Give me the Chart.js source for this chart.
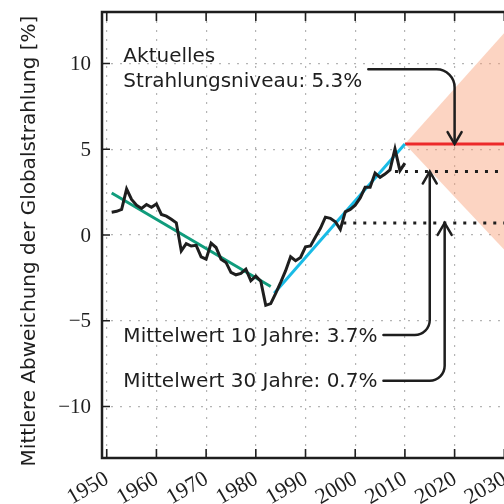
<!DOCTYPE html>
<html>
<head>
<meta charset="utf-8">
<script src="https://cdn.jsdelivr.net/npm/chart.js@4"></script>
<style>
  html, body { margin: 0; padding: 0; overflow: hidden; background: #fff; }
  #wrap { width: 560px; height: 504px; }
</style>
</head>
<body>
<div id="wrap"><canvas id="chart"></canvas></div>
<script>
// ---------- DATA ----------
const years = [
  1951, 1952, 1953, 1954, 1955, 1956, 1957, 1958, 1959, 1960,
  1961, 1962, 1963, 1964, 1965, 1966, 1967, 1968, 1969, 1970,
  1971, 1972, 1973, 1974, 1975, 1976, 1977, 1978, 1979, 1980,
  1981, 1982, 1983, 1984, 1985, 1986, 1987, 1988, 1989, 1990,
  1991, 1992, 1993, 1994, 1995, 1996, 1997, 1998, 1999, 2000,
  2001, 2002, 2003, 2004, 2005, 2006, 2007, 2008, 2009, 2010
];
const radiation = [
  1.33, 1.38, 1.49, 2.68, 2.07, 1.74, 1.55, 1.78, 1.62, 1.81,
  1.2, 1.1, 0.92, 0.71, -0.93, -0.5, -0.64, -0.6, -1.27, -1.41,
  -0.48, -0.73, -1.41, -1.6, -2.18, -2.32, -2.24, -1.99, -2.66, -2.4,
  -2.7, -4.1, -4.0, -3.4, -2.76, -2.08, -1.27, -1.5, -1.31, -0.69,
  -0.64, -0.12, 0.39, 1.04, 0.97, 0.77, 0.33, 1.35, 1.49, 1.74,
  2.16, 2.78, 2.78, 3.61, 3.36, 3.55, 3.8, 5.02, 3.75, 4.19
];
const trendOldYears = [1951, 1983];
const trendOldValues = [2.45, -3.0];
const trendNewYears = [1983.7, 2010];
const trendNewValues = [-3.4, 5.3];
const currentYears = [2010, 2040];
const currentLevel = 5.3;
const mean10 = 3.7;
const mean30 = 0.7;
const mean10Years = [2008, 2040];
const mean30Years = [1997.6, 2040];
const coneYears = [2010, 2035];
const coneUpper = [5.3, 13.4];
const coneLower = [5.3, -2.4];
const xTicks = [1950, 1960, 1970, 1980, 1990, 2000, 2010, 2020, 2030, 2040];
const yTicks = [-10, -5, 0, 5, 10];
const xRange = [1949.05, 2040];
const yRange = [-13, 13];
const yTitle = "Mittlere Abweichung der Globalstrahlung [%]";

// annotation texts, anchored in data units
const notes = [
  { lines: ["Aktuelles", "Strahlungsniveau: 5.3%"], x: 1953.35, baselines: [10.1, 8.65],
    arrow: { y: 9.66, turnX: 2020, tip: currentLevel, r: 18 } },
  { lines: ["Mittelwert 10 Jahre: 3.7%"], x: 1953.35, baselines: [-6.22],
    arrow: { y: -5.83, turnX: 2015, tip: mean10, r: 15 } },
  { lines: ["Mittelwert 30 Jahre: 0.7%"], x: 1953.35, baselines: [-8.88],
    arrow: { y: -8.5, turnX: 2018, tip: mean30, r: 15 } }
];

// ---------- HELPERS ----------
const pts = (xs, ys) => xs.map((x, i) => ({ x, y: ys[i] }));
const flat = (xs, v) => xs.map(x => ({ x, y: v }));

const INK = "#1e1e1e";
const SANS = "20px 'DejaVu Sans'";
const SERIF = "21px 'Liberation Serif'";

function drawArrow(ctx, x0, yH, xV, yTip, r) {
  const dir = yTip > yH ? 1 : -1;
  ctx.beginPath();
  ctx.moveTo(x0, yH);
  ctx.arcTo(xV, yH, xV, yTip, r);
  ctx.lineTo(xV, yTip - dir * 1);
  ctx.stroke();
  ctx.beginPath();
  ctx.moveTo(xV - 7, yTip - dir * 12);
  ctx.lineTo(xV, yTip);
  ctx.lineTo(xV + 7, yTip - dir * 12);
  ctx.stroke();
}

const decor = {
  id: "decor",
  afterDatasetsDraw(chart) {
    const { ctx, chartArea: a, scales: { x, y } } = chart;
    ctx.save();

    // frame
    ctx.strokeStyle = INK;
    ctx.lineWidth = 2.5;
    ctx.strokeRect(a.left, a.top, a.right - a.left, a.bottom - a.top);

    // inward ticks
    ctx.lineWidth = 1.6;
    ctx.beginPath();
    xTicks.forEach(t => {
      const px = x.getPixelForValue(t);
      ctx.moveTo(px, a.bottom); ctx.lineTo(px, a.bottom - 9);
      ctx.moveTo(px, a.top); ctx.lineTo(px, a.top + 9);
    });
    yTicks.forEach(t => {
      const py = y.getPixelForValue(t);
      ctx.moveTo(a.left, py); ctx.lineTo(a.left + 8, py);
    });
    ctx.stroke();

    // tick labels
    ctx.fillStyle = INK;
    ctx.font = SERIF;
    ctx.textAlign = "right";
    ctx.textBaseline = "middle";
    yTicks.forEach(t => {
      const lbl = t < 0 ? "\u2212" + Math.abs(t) : String(t);
      ctx.fillText(lbl, a.left - 11, y.getPixelForValue(t) + 1);
    });
    ctx.font = "22px 'Liberation Serif'";
    ctx.textBaseline = "top";
    xTicks.forEach(t => {
      const px = x.getPixelForValue(t);
      ctx.save();
      ctx.translate(px - 5, a.bottom + 10);
      ctx.rotate(-Math.PI / 6);
      ctx.fillText(String(t), 0, 0);
      ctx.restore();
    });

    // y title
    ctx.font = SANS;
    ctx.textAlign = "center";
    ctx.textBaseline = "alphabetic";
    ctx.save();
    ctx.translate(35, (a.top + a.bottom) / 2 + 6);
    ctx.rotate(-Math.PI / 2);
    ctx.fillText(yTitle, 0, 0);
    ctx.restore();

    // notes and arrows
    ctx.textAlign = "left";
    ctx.lineWidth = 2.5;
    ctx.lineCap = "round";
    notes.forEach(n => {
      const tx = x.getPixelForValue(n.x);
      n.lines.forEach((s, i) => ctx.fillText(s, tx, y.getPixelForValue(n.baselines[i])));
      const lastW = ctx.measureText(n.lines[n.lines.length - 1]).width;
      const x0 = tx + lastW + 6;
      drawArrow(ctx, x0, y.getPixelForValue(n.arrow.y), x.getPixelForValue(n.arrow.turnX),
        y.getPixelForValue(n.arrow.tip), n.arrow.r);
    });

    ctx.restore();
  }
};

new Chart(document.getElementById("chart"), {
  type: "line",
  data: {
    datasets: [
      { data: pts(years, radiation), borderColor: INK, borderWidth: 3, order: 0 },
      { data: pts(trendOldYears, trendOldValues), borderColor: "#109c7c", borderWidth: 3, order: 1 },
      { data: pts(trendNewYears, trendNewValues), borderColor: "#19bbe6", borderWidth: 3, order: 1 },
      { data: flat(currentYears, currentLevel), borderColor: "#ec2a2a", borderWidth: 3, order: 2 },
      { data: flat(mean10Years, mean10), borderColor: INK, borderWidth: 3, borderDash: [3, 7], order: 3 },
      { data: flat(mean30Years, mean30), borderColor: INK, borderWidth: 3, borderDash: [3, 7], order: 3 },
      { data: pts(coneYears, coneUpper), borderWidth: 0, fill: "+1",
        backgroundColor: "rgba(248,160,120,0.45)", order: 9 },
      { data: pts(coneYears, coneLower), borderWidth: 0, fill: false, order: 9 }
    ]
  },
  options: {
    responsive: true,
    maintainAspectRatio: false,
    animation: false,
    layout: { padding: { top: 12, right: 6, left: 0, bottom: 0 } },
    elements: { point: { radius: 0 }, line: { tension: 0 } },
    plugins: { legend: { display: false }, tooltip: { enabled: false } },
    scales: {
      x: {
        type: "linear",
        min: xRange[0], max: xRange[1],
        afterBuildTicks: s => { s.ticks = xTicks.map(v => ({ value: v })); },
        afterFit: s => { s.height = 46; },
        ticks: { display: false },
        grid: { color: "#b4b4b4", lineWidth: 1.2, drawTicks: false },
        border: { display: false, dash: [2, 7] }
      },
      y: {
        min: yRange[0], max: yRange[1],
        afterBuildTicks: s => { s.ticks = yTicks.map(v => ({ value: v })); },
        afterFit: s => { s.width = 102; },
        ticks: { display: false },
        grid: { color: "#b4b4b4", lineWidth: 1.2, drawTicks: false },
        border: { display: false, dash: [2, 7] }
      }
    }
  },
  plugins: [decor]
});
</script>
</body>
</html>
